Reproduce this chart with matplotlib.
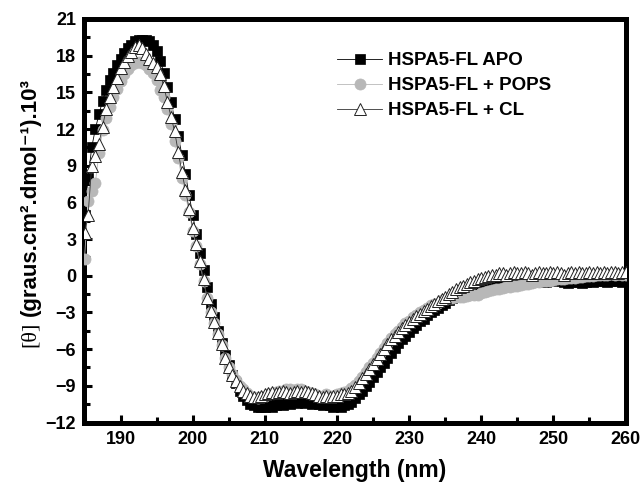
import numpy as np
import matplotlib
matplotlib.use("Agg")
import matplotlib.pyplot as plt
from matplotlib.ticker import MultipleLocator

plt.rcParams['font.family'] = ['Liberation Sans', 'DejaVu Sans']

# wavelength grid (nm), 0.5 nm steps from 185 to 260
wavelength = np.arange(185.0, 260.01, 0.5)

labels = ["HSPA5-FL APO", "HSPA5-FL + POPS", "HSPA5-FL + CL"]

apo = [
    5.0, 8.0, 10.5, 12.0, 13.2, 14.3, 15.2, 16.0, 16.6, 17.2,          # 185
    17.7, 18.2, 18.6, 18.9, 19.2, 19.3, 19.3, 19.3, 19.2, 18.9,        # 190
    18.4, 17.6, 16.6, 15.4, 14.2, 12.8, 11.4, 9.9, 8.3, 6.6,           # 195
    5.0, 3.4, 1.9, 0.5, -0.9, -2.3, -3.4, -4.5, -5.5, -6.5,            # 200
    -7.3, -8.1, -8.8, -9.4, -9.8, -10.2, -10.5, -10.6, -10.7, -10.7,   # 205
    -10.7, -10.6, -10.7, -10.6, -10.5, -10.6, -10.4, -10.5, -10.3, -10.4,  # 210
    -10.3, -10.4, -10.3, -10.5, -10.4, -10.5, -10.6, -10.5, -10.6, -10.7,  # 215
    -10.6, -10.7, -10.6, -10.5, -10.3, -10.0, -9.7, -9.4, -9.0, -8.7,  # 220
    -8.3, -7.9, -7.5, -7.1, -6.7, -6.3, -5.9, -5.5, -5.2, -4.9,        # 225
    -4.6, -4.3, -4.0, -3.7, -3.5, -3.2, -3.0, -2.8, -2.6, -2.4,        # 230
    -2.2, -2.0, -1.8, -1.65, -1.5, -1.35, -1.2, -1.1, -1.0, -0.9,      # 235
    -0.8, -0.75, -0.7, -0.65, -0.6, -0.55, -0.5, -0.6, -0.5, -0.45,    # 240
    -0.5, -0.4, -0.5, -0.6, -0.5, -0.4, -0.3, -0.4, -0.5, -0.4,        # 245
    -0.3, -0.2, -0.4, -0.5, -0.6, -0.5, -0.4, -0.5, -0.6, -0.5,        # 250
    -0.4, -0.5, -0.4, -0.3, -0.4, -0.5, -0.4, -0.3, -0.4, -0.5,        # 255
    -0.4,                                                              # 260
]

pops = [
    1.4, 6.1, 6.9, 7.6, 10.0, 11.9, 12.9, 13.8, 14.6, 15.3,            # 185
    15.9, 16.5, 16.9, 17.2, 17.4, 17.5, 17.4, 17.2, 16.9, 16.6,        # 190
    16.0, 15.2, 14.6, 13.6, 12.4, 11.0, 9.6, 8.0, 6.6, 5.2,            # 195
    3.7, 2.4, 1.0, -0.4, -1.8, -3.0, -3.9, -4.8, -5.7, -6.7,           # 200
    -7.5, -8.0, -8.5, -9.0, -9.3, -9.6, -9.8, -9.9, -10.0, -9.9,       # 205
    -9.8, -9.7, -9.6, -9.5, -9.4, -9.4, -9.3, -9.3, -9.4, -9.3,        # 210
    -9.3, -9.4, -9.5, -9.6, -9.7, -9.8, -9.8, -9.7, -9.8, -9.8,        # 215
    -9.7, -9.6, -9.5, -9.4, -9.2, -8.9, -8.6, -8.3, -7.9, -7.5,        # 220
    -7.1, -6.7, -6.3, -5.9, -5.5, -5.1, -4.8, -4.5, -4.2, -3.9,        # 225
    -3.7, -3.4, -3.2, -3.0, -2.8, -2.6, -2.4, -2.3, -2.2, -2.0,        # 230
    -1.9, -1.85, -1.8, -1.75, -1.7, -1.7, -1.65, -1.6, -1.6, -1.55,    # 235
    -1.4, -1.3, -1.25, -1.2, -1.1, -1.05, -1.0, -0.95, -0.9, -0.85,    # 240
    -0.8, -0.75, -0.7, -0.65, -0.6, -0.55, -0.5, -0.45, -0.4, -0.4,    # 245
    -0.35, -0.3, -0.3, -0.25, -0.2, -0.2, -0.15, -0.1, -0.1, -0.05,    # 250
    0.0, 0.0, 0.05, 0.1, 0.1, 0.1, 0.15, 0.1, 0.15, 0.1,               # 255
    0.1,                                                               # 260
]

cl = [
    3.5, 5.0, 9.0, 9.8, 10.8, 12.2, 13.6, 14.6, 15.4, 16.2,            # 185
    17.0, 17.5, 18.0, 18.3, 18.7, 18.9, 18.6, 18.1, 17.7, 17.4,        # 190
    17.1, 16.5, 15.5, 14.2, 13.0, 11.8, 10.1, 8.5, 7.0, 5.5,           # 195
    3.9, 2.6, 1.2, -0.3, -1.8, -2.9, -3.8, -4.7, -5.6, -6.7,           # 200
    -7.5, -8.1, -8.6, -9.0, -9.4, -9.6, -9.8, -9.9, -9.9, -9.8,        # 205
    -9.7, -9.6, -9.5, -9.6, -9.5, -9.4, -9.5, -9.6, -9.5, -9.4,        # 210
    -9.5, -9.4, -9.5, -9.6, -9.7, -9.8, -9.9, -9.8, -9.9, -9.8,        # 215
    -9.8, -9.7, -9.7, -9.6, -9.4, -9.1, -8.8, -8.4, -8.0, -7.6,        # 220
    -7.2, -6.8, -6.4, -6.0, -5.6, -5.2, -4.9, -4.6, -4.3, -4.0,        # 225
    -3.8, -3.5, -3.3, -3.1, -2.9, -2.7, -2.5, -2.3, -2.1, -1.9,        # 230
    -1.7, -1.5, -1.3, -1.1, -0.95, -0.8, -0.65, -0.5, -0.4, -0.3,      # 235
    -0.2, -0.1, 0.0, 0.1, 0.1, 0.2, 0.2, 0.1, 0.2, 0.3,                # 240
    0.2, 0.2, 0.3, 0.2, 0.1, 0.2, 0.3, 0.2, 0.2, 0.3,                  # 245
    0.2, 0.3, 0.2, 0.1, 0.2, 0.3, 0.2, 0.3, 0.2, 0.2,                  # 250
    0.3, 0.2, 0.3, 0.2, 0.3, 0.2, 0.3, 0.3, 0.2, 0.3,                  # 255
    0.3,                                                               # 260
]

x_ticks = [190, 200, 210, 220, 230, 240, 250, 260]
y_ticks = [-12, -9, -6, -3, 0, 3, 6, 9, 12, 15, 18, 21]

fig = plt.figure(figsize=(6.42, 4.84), dpi=100)
W, H = 642, 484
ax = fig.add_axes([84.5 / W, 1 - 422.5 / H, (625.5 - 84.5) / W, (422.5 - 19) / H])

ax.plot(wavelength, apo, color='black', lw=0.6, marker='s', ms=7.5,
        mfc='black', mec='black', mew=0.5, label=labels[0], zorder=2)
ax.plot(wavelength, pops, color='#b8b8b8', lw=0.6, marker='o', ms=8,
        mfc='#b8b8b8', mec='#b8b8b8', mew=0.5, label=labels[1], zorder=3)
ax.plot(wavelength, cl, color='#333333', lw=0.6, marker='^', ms=8.5,
        mfc='white', mec='#222222', mew=0.7, label=labels[2], zorder=4)

ax.set_xlim(185, 260)
ax.set_ylim(-12, 21)
ax.set_xticks(x_ticks)
ax.set_yticks(y_ticks)
ax.xaxis.set_minor_locator(MultipleLocator(5))
ax.yaxis.set_minor_locator(MultipleLocator(1.5))

for s in ax.spines.values():
    s.set_linewidth(3.6)
ax.tick_params(which='both', direction='in', top=False, right=False,
               width=2.2, labelsize=13)
ax.tick_params(which='major', length=6, pad=6)
ax.tick_params(which='minor', length=4)
for lab in ax.get_xticklabels() + ax.get_yticklabels():
    lab.set_fontweight('bold')

ax.set_xlabel('Wavelength (nm)', fontsize=16.5, fontweight='bold', labelpad=8)

# y label: "[θ]" in regular weight, remainder bold
ylab_x = 30 / W
t1 = fig.text(ylab_x, 1 - 347 / H, '[θ]', rotation=90, ha='center', va='bottom',
              fontsize=16, family=['Liberation Serif', 'DejaVu Serif'])
fig.canvas.draw()
bb = t1.get_window_extent()
fig.text(ylab_x, (bb.y1 + 6) / H, '(graus.cm².dmol⁻¹).10³', rotation=90,
         ha='center', va='bottom', fontsize=16, fontweight='bold')

leg = ax.legend(loc='upper left', bbox_to_anchor=(337 / W, 1 - 52 / H),
                bbox_transform=fig.transFigure, frameon=False,
                prop={'weight': 'bold', 'size': 13.5}, borderpad=0,
                borderaxespad=0, handlelength=2.4, handletextpad=0.3,
                labelspacing=0.42)

fig.savefig('out.png', dpi=100)
